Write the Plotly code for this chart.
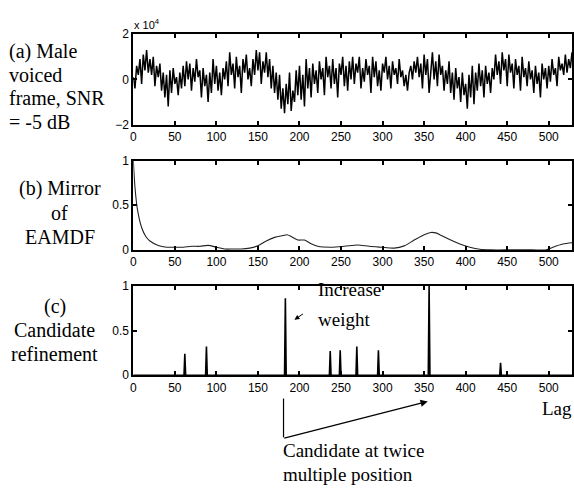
import plotly.graph_objects as go

W, H = 574, 492

# ---- data ----
# (a) noisy voiced frame, values in units of 1e4, one value every 2 lags (0..528)
signal_a = [
    0.1, -0.4, 0.6, 0.2, 0.9, -0.2, 1.1, 0.4, 1.3, 0.3,
    0.9, 0.2, 1.0, -0.3, 0.6, 0.1, 0.7, -0.5, 0.3, -0.8,
    0.2, -1.2, 0.4, -0.6, 0.5, -0.2, 0.1, -0.7, 0.3, -0.4,
    0.6, -0.3, 0.8, 0.0, 0.7, -0.5, 0.5, -0.1, 0.9, 0.1,
    0.4, -0.8, 0.5, -0.3, 0.2, -1.0, 0.3, -0.6, 0.9, -0.2,
    0.6, -0.5, 0.3, -0.7, 0.5, 0.0, 0.8, -0.3, 1.2, 0.2,
    0.7, -0.4, 1.0, 0.1, 0.6, -0.6, 0.9, 0.3, 1.1, 0.0,
    0.5, -0.3, 0.9, 0.2, 1.3, 0.4, 1.2, -0.2, 0.8, 0.3,
    1.2, 0.1, 0.9, -0.4, 0.6, -0.6, 0.3, -0.9, 0.2, -1.3,
    -0.4, -1.5, -0.2, -1.1, 0.3, -1.4, -0.5, -1.0, 0.4, -0.7,
    0.6, -0.9, 0.2, -1.2, 0.9, -0.4, 0.5, -0.8, 0.7, -0.2,
    0.4, -0.6, 0.8, 0.0, 0.5, -0.7, 1.0, 0.1, 0.6, -0.4,
    0.9, -0.2, 0.5, -0.8, 0.7, 0.2, 1.0, -0.3, 0.6, -0.5,
    0.8, 0.0, 1.0, -0.2, 0.7, 0.3, 1.0, -0.4, 0.5, -0.1,
    0.9, 0.2, 0.6, -0.6, 1.0, 0.1, 0.8, -0.3, 0.4, -0.5,
    0.7, 0.3, 1.0, 0.0, 0.6, -0.4, 0.8, 0.2, 0.5, -0.2,
    0.9, 0.1, 0.4, -0.3, 0.2, -0.5, 0.3, 0.6, 0.0, 0.8,
    0.3, 1.0, 0.1, 0.7, -0.4, 1.1, 0.2, 0.9, -0.6, 0.4,
    1.2, 0.0, 0.8, -0.3, 1.1, 0.2, 0.6, -0.5, 0.4, -0.2,
    0.8, -0.6, 0.3, -0.9, 0.5, -0.4, 0.1, -1.0, 0.3, -0.7,
    -0.2, -1.3, 0.2, -0.8, 0.6, -1.1, 0.3, -0.5, 0.7, -0.3,
    0.4, -0.8, 0.6, -0.2, 0.3, -0.6, 0.5, 0.0, 1.1, 0.2,
    0.8, -0.2, 1.2, 0.4, 0.9, -0.3, 1.1, 0.3, 0.7, -0.4,
    0.9, 0.2, 0.6, -0.5, 1.0, 0.1, 0.5, -0.3, 0.8, 0.0,
    0.4, -0.6, 0.6, -0.2, 0.3, -0.8, 0.7, 0.0, 0.5, -0.4,
    0.6, -0.1, 0.9, 0.2, 0.5, -0.3, 1.0, 0.4, 0.7, 0.2,
    1.1, 0.3, 0.9, 0.5, 1.2,
]
lags_a = list(range(0, 2 * len(signal_a), 2))

# (b) mirror of EAMDF
lags_b = [0, 2, 5, 10, 15, 20, 30, 40, 50, 60, 70, 80, 90, 100, 110, 120, 130, 140, 150, 160,
          170, 180, 185, 190, 198, 206, 214, 222, 238, 254, 270, 284, 298, 314, 326, 338, 344,
          350, 358, 364, 370, 382, 393, 405, 417, 430, 457, 480, 497, 505, 517, 528]
vals_b = [1.0, 0.7, 0.45, 0.25, 0.15, 0.1, 0.05, 0.03, 0.03, 0.03, 0.04, 0.04, 0.05, 0.03, 0.01,
          0.01, 0.01, 0.02, 0.045, 0.1, 0.14, 0.16, 0.17, 0.15, 0.11, 0.11, 0.07, 0.04, 0.03,
          0.04, 0.055, 0.04, 0.03, 0.02, 0.045, 0.11, 0.14, 0.17, 0.195, 0.19, 0.165, 0.11,
          0.066, 0.03, 0.007, 0.0, 0.0, 0.0, 0.0, 0.03, 0.066, 0.08]

# (c) candidate refinement
cand_lags = [62, 88, 183, 237, 249, 269, 295, 356, 442]
cand_weights = [0.24, 0.32, 0.86, 0.27, 0.28, 0.32, 0.28, 1.0, 0.14]

x_ticks = [0, 50, 100, 150, 200, 250, 300, 350, 400, 450, 500]
X_MAX = 528

# build spike line for (c)
xc, yc = [0], [0]
for l, w in zip(cand_lags, cand_weights):
    xc += [l - 1, l, l + 1]
    yc += [0, w, 0]
xc.append(X_MAX)
yc.append(0)

fig = go.Figure()
fig.add_trace(go.Scatter(x=lags_a, y=signal_a, mode="lines",
                         line=dict(color="black", width=1.5), xaxis="x", yaxis="y"))
fig.add_trace(go.Scatter(x=lags_b, y=vals_b, mode="lines",
                         line=dict(color="#222", width=1.1, shape="spline", smoothing=0.8),
                         xaxis="x2", yaxis="y2"))
fig.add_trace(go.Scatter(x=xc, y=yc, mode="lines",
                         line=dict(color="black", width=1.6), xaxis="x3", yaxis="y3"))

def px(x):
    return x / W

def py(y):
    return 1 - y / H

xdom = [px(131), px(572)]
ax_common = dict(range=[0, X_MAX], showline=True, linecolor="black", linewidth=2,
                 mirror="ticks", ticks="inside", ticklen=4, tickwidth=2, tickcolor="black",
                 tickvals=x_ticks, showgrid=False, zeroline=False,
                 tickfont=dict(family="Arial", size=12, color="black"), domain=xdom)
ay_common = dict(showline=True, linecolor="black", linewidth=2, mirror="ticks",
                 ticks="inside", ticklen=4, tickwidth=2, tickcolor="black", showgrid=False,
                 zeroline=False, tickfont=dict(family="Arial", size=12, color="black"))

fig.update_layout(
    width=W, height=H, margin=dict(l=0, r=0, t=0, b=0),
    paper_bgcolor="white", plot_bgcolor="white", showlegend=False,
    xaxis=dict(ax_common, anchor="y"),
    yaxis=dict(ay_common, range=[-2, 2], tickvals=[-2, 0, 2], anchor="x",
               domain=[py(121), py(28)]),
    xaxis2=dict(ax_common, anchor="y2"),
    yaxis2=dict(ay_common, range=[0, 1], tickvals=[0, 0.5, 1], anchor="x2",
                domain=[py(250), py(158)]),
    xaxis3=dict(ax_common, anchor="y3"),
    yaxis3=dict(ay_common, range=[0, 1], tickvals=[0, 0.5, 1], anchor="x3",
                domain=[py(379), py(287)]),
)

serif = dict(family="Liberation Serif, Times New Roman, serif", size=20, color="black")
anns = []

def text(t, x, y, xanchor="left", size=20):
    f = dict(serif)
    f["size"] = size
    anns.append(dict(text=t, x=px(x), y=py(y), xref="paper", yref="paper",
                     xanchor=xanchor, yanchor="middle", showarrow=False, font=f))

# left labels
text("(a) Male", 4, 46)
text("voiced", 4, 70)
text("frame, SNR", 4, 94)
text("= -5 dB", 4, 118)
text("(b) Mirror", 57, 187, "center")
text("of", 57, 212, "center")
text("EAMDF", 57, 237, "center")
text("(c)", 52, 308, "center")
text("Candidate", 52, 332, "center")
text("refinement", 52, 357, "center")

# in-plot annotations
text("Increase", 315, 291, size=19)
text("weight", 315, 322, size=19)
text("Lag", 540, 413, size=19)
text("Candidate at twice", 279, 457, size=19)
text("multiple position", 279, 481, size=19)

anns.append(dict(text="x 10<sup>4</sup>", x=px(130), y=py(18), xref="paper", yref="paper",
                 xanchor="left", yanchor="middle", showarrow=False,
                 font=dict(family="Arial", size=11, color="black")))

# small arrow to increased weight
anns.append(dict(text="", x=px(293), y=py(322), xref="paper", yref="paper",
                 showarrow=True, ax=10, ay=-7, arrowhead=2, arrowsize=1, arrowwidth=1,
                 arrowcolor="black"))
# big arrow to twice position
anns.append(dict(text="", x=px(427), y=py(406), xref="paper", yref="paper",
                 showarrow=True, ax=-145, ay=37, arrowhead=2, arrowsize=1.2, arrowwidth=1.2,
                 arrowcolor="black", standoff=0))

fig.update_layout(annotations=anns)
fig.add_shape(type="line", xref="paper", yref="paper", x0=px(282), x1=px(282),
              y0=py(403), y1=py(443), line=dict(color="black", width=1.2))

fig.write_html("out.html", config={"displayModeBar": False},
               post_script="document.body.style.margin='0';document.body.style.overflow='hidden';")
